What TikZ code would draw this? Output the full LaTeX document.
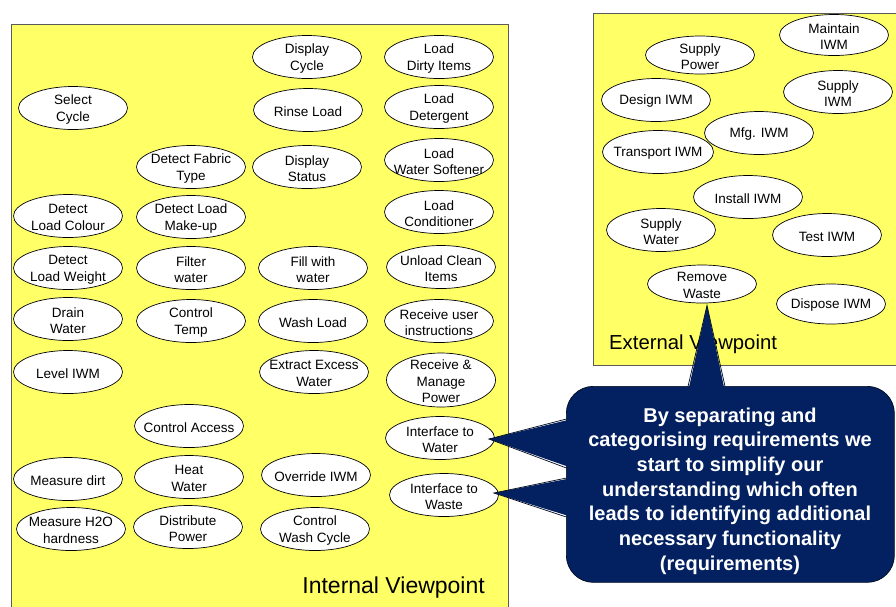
\documentclass[tikz,border=0pt]{standalone}
\usepackage{fontspec}
\setmainfont{Liberation Sans}
\usetikzlibrary{shapes.geometric}
\definecolor{boxyellow}{RGB}{255,255,102}
\definecolor{navy}{RGB}{3,33,96}
\definecolor{boxline}{RGB}{90,90,90}
\tikzset{
  uctext/.style={inner sep=0pt, align=center, yshift=-1.5pt,
    font=\fontsize{13.5}{16.5}\selectfont},
  uc/.style={ellipse, draw=black, line width=0.7pt, fill=white, inner sep=0pt,
    minimum width=109pt, minimum height=43pt,
    label={[uctext]center:{#1}}},
  viewbox/.style={draw=boxline, line width=0.8pt, fill=boxyellow},
  viewlabel/.style={inner sep=0pt},
  calloutbox/.style={draw=black!70!navy, line width=0.7pt, fill=navy, rounded corners=27pt},
  pointer/.style={draw=black!70!navy, line width=0.7pt, line join=miter}
}
\begin{document}
\begin{tikzpicture}[x=1pt,y=-1pt]
\useasboundingbox (0,0) rectangle (896,606);
\clip (0,0) rectangle (896,606);
\fill[white] (0,0) rectangle (896,606);

% view boxes
\node[viewbox, minimum width=497pt, minimum height=600pt, inner sep=0pt, anchor=north west] (internal) at (11,24) {};
\node[viewbox, minimum width=310pt, minimum height=352pt, inner sep=0pt, anchor=north west] (external) at (593,13) {};

% internal column 1
\node[uc={Select\\Cycle}] (selcyc) at (73,108) {};
\node[uc={Detect\\Load Colour}] (detcol) at (68,216) {};
\node[uc={Detect\\Load Weight}] (detwei) at (68,268) {};
\node[uc={Drain\\Water}] (drain) at (68,319) {};
\node[uc={Level IWM}] (level) at (68,372) {};
\node[uc={Measure dirt}] (mdirt) at (68,479) {};
\node[uc={Measure H2O\\hardness}] (mhard) at (71,529) {};

% internal column 2
\node[uc={Detect Fabric\\Type}] (detfab) at (191,167) {};
\node[uc={Detect Load\\Make-up}] (detmak) at (191,217) {};
\node[uc={Filter\\water}] (filter) at (191,268) {};
\node[uc={Control\\Temp}] (ctemp) at (191,321) {};
\node[uc={Control Access}] (cacc) at (189,426) {};
\node[uc={Heat\\Water}] (heat) at (189,477) {};
\node[uc={Distribute\\Power}] (dpow) at (188,527) {};

% internal column 3
\node[uc={Display\\Cycle}] (dcyc) at (307,57) {};
\node[uc={Rinse Load}] (rinse) at (308,110) {};
\node[uc={Display\\Status}] (dstat) at (307,167) {};
\node[uc={Fill with\\water}] (fill) at (313,268) {};
\node[uc={Wash Load}] (wash) at (313,321) {};
\node[uc={Extract Excess\\Water}] (extract) at (314,372) {};
\node[uc={Override IWM}] (override) at (316,475) {};
\node[uc={Control\\Wash Cycle}] (cwash) at (315,529) {};

% internal column 4
\node[uc={Load\\Dirty Items}] (ldirty) at (439,57) {};
\node[uc={Load\\Detergent}] (ldet) at (439,107) {};
\node[uc={Load\\Water Softener}] (lsoft) at (439,160) {};
\node[uc={Load\\Conditioner}] (lcond) at (439,212) {};
\node[uc={Unload Clean\\Items}] (unload) at (441,267) {};
\node[uc={Receive user\\instructions}] (recv) at (439,321) {};
\node[uc={Receive \&\\Manage\\Power}, minimum height=54pt] (rpow) at (441,380) {};
\node[uc={Interface to\\Water}] (iwater) at (440,438) {};
\node[uc={Interface to\\Waste}] (iwaste) at (444,495) {};

\node[viewlabel, anchor=base east, font=\fontsize{23}{26}\selectfont] (intlabel) at (485,593) {Internal Viewpoint};

% external
\node[uc={Supply\\Power}, minimum height=38pt] (spow) at (700,55) {};
\node[uc={Maintain\\IWM}, minimum height=41pt] (maint) at (834,35) {};
\node[uc={Design IWM}] (design) at (656,100) {};
\node[uc={Supply\\IWM}] (supiwm) at (838,92) {};
\node[uc={Mfg. IWM}] (mfg) at (759,133) {};
\node[uc={Transport IWM}, minimum width=111pt] (transp) at (658,152) {};
\node[uc={Install IWM}] (install) at (748,197) {};
\node[uc={Supply\\Water}] (swater) at (661,230) {};
\node[uc={Test IWM}] (test) at (827,235) {};
\node[uc={Remove\\Waste}, minimum height=38pt] (rwaste) at (702,284) {};
\node[uc={Dispose IWM}, minimum height=40pt] (dispose) at (831,304) {};

\node[viewlabel, anchor=base west, font=\fontsize{20.3}{24}\selectfont] (extlabel) at (609,349) {External Viewpoint};

% callout
\node[calloutbox, minimum width=328pt, minimum height=196pt, inner sep=0pt, anchor=north west] (callout) at (566,386) {};
\coordinate (pa1) at (688,392);
\coordinate (pa2) at (725,392);
\coordinate (pb1) at (572,419);
\coordinate (pb2) at (572,468);
\coordinate (pc1) at (572,478);
\coordinate (pc2) at (572,517);
\fill[navy] (pa1) -- ([xshift=5pt,yshift=-2pt]rwaste.south) -- (pa2) -- cycle;
\draw[pointer] (688,386.4) -- ([xshift=5pt,yshift=-2pt]rwaste.south) -- (725,386.4);
\fill[navy] (pb1) -- ([xshift=-6pt,yshift=-1pt]iwater.east) -- (pb2) -- cycle;
\draw[pointer] (566.4,419) -- ([xshift=-6pt,yshift=-1pt]iwater.east) -- (566.4,468);
\fill[navy] (pc1) -- ([xshift=-5pt,yshift=2pt]iwaste.east) -- (pc2) -- cycle;
\draw[pointer] (566.4,478) -- ([xshift=-5pt,yshift=2pt]iwaste.east) -- (566.4,517);

\node[text=white, align=center, font=\fontsize{20}{24.7}\selectfont\bfseries, inner sep=0pt] (callouttext) at (730,491) {By separating and\\categorising requirements we\\start to simplify our\\understanding which often\\leads to identifying additional\\necessary functionality\\(requirements)};
\end{tikzpicture}
\end{document}
